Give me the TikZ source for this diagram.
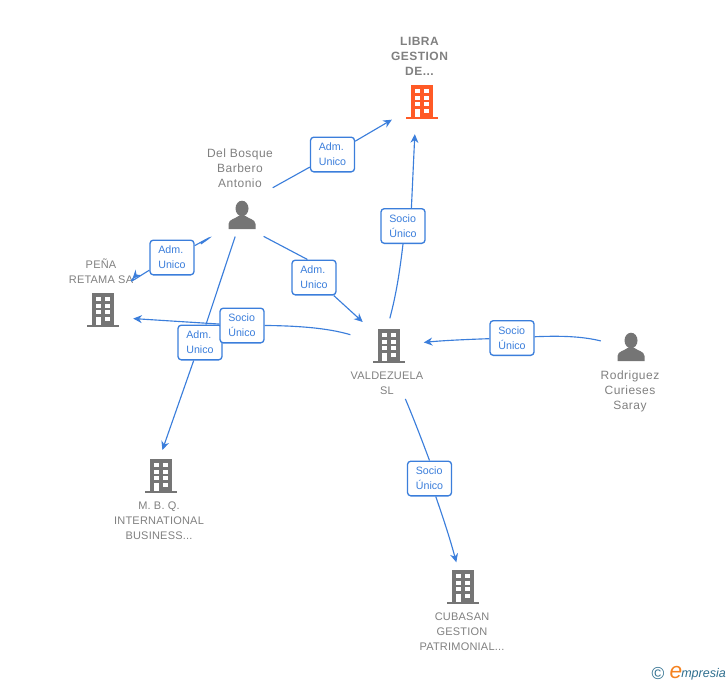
\documentclass[tikz,border=0pt]{standalone}
\usepackage{fontspec}
\setmainfont{Liberation Sans}
\newfontfamily\namefont[LetterSpace=4]{Liberation Sans}
\newfontfamily\capsfont[LetterSpace=2]{Liberation Sans}
\usetikzlibrary{arrows.meta}
\definecolor{linkblue}{HTML}{3B7EDB}
\definecolor{icongray}{HTML}{757575}
\definecolor{labelgray}{HTML}{808080}
\definecolor{libraorange}{HTML}{FF5A26}
\definecolor{logoteal}{HTML}{2F6F8F}
\definecolor{logoorange}{HTML}{F5821F}
\tikzset{
  buildingicon/.pic={
    \fill[pic actions] (-11,-17) rectangle (11,15);
    \fill[pic actions] (-16,15) rectangle (16,17);
    \foreach \row in {-13,-6,0}{
      \fill[white] (-7,\row) rectangle (-2.5,\row+4);
      \fill[white] (2,\row) rectangle (7,\row+4);
    }
    \fill[white] (2,7) rectangle (7,11);
    \fill[white] (-7,7) rectangle (-2.5,15);
  },
  personicon/.pic={
    \fill[pic actions] (0,-7.5) ellipse (6.5 and 7.8);
    \fill[pic actions] (-13.5,13) -- (-13.5,8) .. controls (-13,3) and (-7,3) .. (-3.5,0)
      -- (3.5,0) .. controls (7,3) and (13,3) .. (13.5,8) -- (13.5,13) -- cycle;
  }
}
\begin{document}
\begin{tikzpicture}[x=0.75pt,y=-0.75pt]
  \useasboundingbox (0,0) rectangle (728,685);
  \begin{scope}[every node/.style={circle,inner sep=0pt,minimum size=22pt}]
  \node (libra) at (422,102) {};
  \node (delbosque) at (242,216) {};
  \node (penya) at (103,310) {};
  \node (valdezuela) at (389,346) {};
  \node (rodriguez) at (631,348) {};
  \node (mbq) at (161,476) {};
  \node (cubasan) at (463,587) {};
  \end{scope}
  \pic[color=libraorange] at (libra) {buildingicon};
  \pic[color=icongray] at (penya) {buildingicon};
  \pic[color=icongray] at (valdezuela) {buildingicon};
  \pic[color=icongray] at (mbq) {buildingicon};
  \pic[color=icongray] at (cubasan) {buildingicon};
  \pic[color=icongray] at (delbosque) {personicon};
  \pic[color=icongray] at (rodriguez) {personicon};
  \begin{scope}[every node/.style={text=labelgray,align=center,inner sep=0pt,font=\fontsize{8.25}{11.25}\selectfont\capsfont}]
  \node[font=\fontsize{9}{11.25}\selectfont\namefont\bfseries] (librat) at (419.5,56) {LIBRA\\GESTION\\DE...};
  \node[font=\fontsize{9}{11.25}\selectfont\namefont] (delbosquet) at (240,168) {Del Bosque\\Barbero\\Antonio};
  \node (penyat) at (101,271.5) {PEÑA\\RETAMA SA};
  \node (valdezuelat) at (387,383.5) {VALDEZUELA\\SL};
  \node[font=\fontsize{9}{11.25}\selectfont\namefont] (rodrigueztext) at (630,391) {Rodriguez\\Curieses\\Saray};
  \node (mbqt) at (159,521) {M. B. Q.\\INTERNATIONAL\\BUSINESS...};
  \node (cubasant) at (462,632) {CUBASAN\\GESTION\\PATRIMONIAL...};
  \end{scope}
  \begin{scope}[every node/.style={draw=linkblue,line width=1pt,rounded corners=2.5pt,fill=white,text=linkblue,
      minimum width=33pt,minimum height=26pt,inner sep=0pt,align=left,font=\fontsize{8}{11.25}\selectfont}]
  \node (admlibra) at (332.5,154.5) {Adm.\\Unico};
  \node (admpenya) at (172,257.5) {Adm.\\Unico};
  \node (admmbq) at (200,342.5) {Adm.\\Unico};
  \node (admvaldez) at (314,277.5) {Adm.\\Unico};
  \node (sociolibra) at (403,226) {Socio\\Único};
  \node (sociopenya) at (242,325.5) {Socio\\Único};
  \node (sociovaldez) at (512,338) {Socio\\Único};
  \node (sociocub) at (429.5,478.5) {Socio\\Único};
  \end{scope}
  \begin{scope}[every edge/.style={draw=linkblue,line width=0.85pt},
      tip/.style={-{Stealth[length=6.5pt,width=6pt]}}]
  \path (delbosque.70) edge[shorten <=22pt] (admlibra);
  \path (admlibra) edge[tip,shorten >=15pt] (libra);
  \path (delbosque) edge[shorten <=26pt,bend left=3] (admpenya);
  \path (admpenya) edge[tip,shorten >=21pt,bend right=8] (penya);
  \path (delbosque) edge[shorten <=5pt] (admmbq);
  \path (admmbq) edge[tip,shorten >=9pt] (mbq.100);
  \path (delbosque.-60) edge[shorten <=12pt] (admvaldez.110);
  \path (admvaldez) edge[tip,shorten >=15.5pt] (valdezuela);
  \path (valdezuela.100) edge[shorten <=10pt,bend right=4] (sociolibra.south);
  \path (sociolibra.65) edge[tip,shorten >=14pt] (libra.245);
  \path (valdezuela) edge[shorten <=19pt,bend right=8] (sociopenya);
  \path (sociopenya) edge[tip,shorten >=13pt] (penya.-30);
  \path (rodriguez) edge[shorten <=12pt,bend right=8] (sociovaldez);
  \path (sociovaldez) edge[tip,shorten >=15pt,bend right=2] (valdezuela);
  \path (valdezuela.-100) edge[shorten <=32pt,bend left=3] (sociocub.north);
  \path (sociocub) edge[tip,shorten >=8pt,bend left=2] (cubasan);
  \end{scope}
  \node[text=logoteal,inner sep=0pt,font=\fontsize{13}{13}\selectfont] (logocopy) at (658,674) {©};
  \node[text=logoorange,inner sep=0pt,font=\fontsize{17}{17}\selectfont\itshape] (logoe) at (676,673) {e};
  \node[text=logoteal,inner sep=0pt,anchor=west,font=\fontsize{9.4}{10}\selectfont\itshape] (logotext) at (681,674) {mpresia};
\end{tikzpicture}
\end{document}
